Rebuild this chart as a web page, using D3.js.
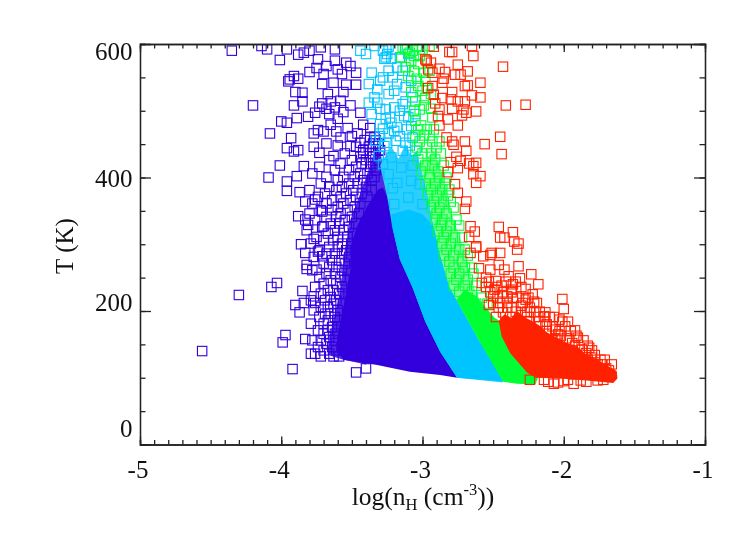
<!DOCTYPE html>
<html><head><meta charset="utf-8">
<script src="https://cdn.jsdelivr.net/npm/d3@7"></script>
<style>html,body{margin:0;background:#fff}svg{display:block;filter:blur(.35px)}text{font-family:"Liberation Serif",serif;fill:#111}</style>
</head><body><svg id="c" width="747" height="534"></svg>
<script>
// ---------- data ----------
const xMajor=[-5,-4,-3,-2,-1];
const yMajor=[0,200,400,600];
const seriesColors=["#3300dd","#00c4ff","#00ff33","#ff2200"];
const hazeColors=["#4f2be4","#2ccdff","#7dff95","#ff2200"];

// envelopes of the over-plotted masses: [log(nH), T]
const blueHaze=[[-3.67,134],[-3.655,164],[-3.58,232],[-3.55,292],[-3.51,337],[-3.43,382],[-3.37,419],[-3.33,445],[-3.30,440],[-3.20,330],[-3.20,200],[-3.40,120],[-3.56,127]];
const blueCore=[[-3.56,127],[-3.605,139],[-3.605,160],[-3.55,217],[-3.51,262],[-3.51,296],[-3.46,329],[-3.385,359],[-3.315,382],[-3.28,385],[-3.10,300],[-2.95,190],[-2.755,100],[-2.875,104],[-3.09,109],[-3.32,119]];
const cyanHaze=[[-3.30,418],[-3.25,371],[-3.21,322],[-3.16,277],[-3.07,235],[-2.98,184],[-2.875,139],[-2.755,100],[-2.43,93],[-2.59,152],[-2.76,217],[-2.81,236],[-2.88,287],[-2.93,337],[-2.96,371],[-3.02,422],[-3.04,440],[-3.08,432],[-3.12,450],[-3.17,428],[-3.22,446],[-3.27,430]];
const cyanCore=[[-3.21,322],[-3.22,345],[-3.10,352],[-3.0,345],[-2.85,310],[-2.65,221],[-2.50,152],[-2.33,93],[-2.755,100],[-2.875,139],[-2.98,184],[-3.07,235],[-3.16,277]];
const greenHaze=[[-3.02,422],[-2.96,371],[-2.93,337],[-2.88,287],[-2.81,236],[-2.76,217],[-2.59,152],[-2.47,179],[-2.56,202],[-2.63,232],[-2.68,269],[-2.73,307],[-2.79,344],[-2.83,382],[-2.88,419],[-2.92,440],[-2.97,430]];
const greenCore=[[-2.76,217],[-2.70,232],[-2.62,222],[-2.49,190],[-2.38,176],[-2.30,131],[-2.18,101],[-2.20,90],[-2.33,91],[-2.43,94],[-2.59,152]];
const redHaze=[];
const redCore=[[-2.46,185],[-2.42,195],[-2.37,190],[-2.33,200],[-2.27,190],[-2.215,184],[-2.17,178],[-2.12,168],[-2.05,160],[-1.98,152],[-1.90,146],[-1.84,135],[-1.77,128],[-1.70,119],[-1.625,110],[-1.62,99],[-1.65,92],[-1.84,96],[-2.03,99],[-2.20,100],[-2.26,108],[-2.38,137],[-2.44,162]];

// individually readable squares: [log(nH), T]
const bluePoints=[[-4.56,140],[-4.30,224],[-4.07,236],[-4.03,242],[-3.85,230],[-3.90,209],[-3.84,212],[-3.87,198],[-3.83,287],[-3.86,300],[-3.82,269],[-3.82,263],[-3.75,262],[-3.74,289],[-3.71,282],[-3.97,164],[-3.99,153],[-3.83,158],[-3.92,113],[-3.47,108],[-3.40,114],[-3.79,136],[-3.76,212],[-3.77,222],
[-4.35,590],[-4.14,597],[-4.10,592],[-4.01,576],[-3.96,592],[-3.88,584],[-3.84,587],[-3.80,558],[-3.75,564],[-3.68,567],[-3.54,572],[-3.51,567],[-3.94,547],[-3.91,552],[-3.88,548],[-3.95,544],[-3.71,540],[-3.63,542],[-3.54,539],[-3.47,539],[-3.60,562],[-3.47,557],[-3.90,528],[-3.85,527],[-4.20,508],[-3.91,508],[-3.85,514],[-3.73,506],[-3.65,514],[-3.51,508],[-3.44,497],[-4.00,484],[-3.96,482],[-3.89,489],[-3.81,491],[-3.60,488],[-3.65,479],[-4.08,466],[-3.93,459],[-3.77,466],[-3.70,469],[-3.61,469],[-3.53,474],[-3.42,479],[-3.37,474],[-3.96,444],[-3.91,439],[-3.88,441],[-3.77,446],[-3.73,437],[-3.63,432],[-3.51,447],[-3.44,452],[-3.42,437],[-4.01,418],[-4.09,400],[-3.89,402],[-3.84,417],[-3.96,394],[-3.96,380],[-3.87,378],[-3.83,364],[-3.76,367],[-3.88,342],[-3.83,337],[-3.81,329],[-3.71,349],[-3.70,327],[-3.77,308],
[-3.80,590],[-3.72,595],[-3.62,592],[-3.74,577],[-3.70,555],[-3.62,575],[-3.57,555],[-3.56,528],[-3.67,525],[-3.58,515],[-3.76,497],[-3.71,511],[-3.68,503],[-3.62,505],[-3.66,495],[-3.56,498],[-3.74,471],[-3.58,460],[-3.50,462],[-3.46,466],[-3.68,451],[-3.60,448]];

// crowded zones, one row per T: [T, log(nH)...]
const blueRows=[
[461,-3.37,-3.34],[456,-3.41,-3.33],[451,-3.35,-3.31],[446,-3.47,-3.38],[441,-3.42,-3.33,-3.30],[436,-3.55,-3.37],[431,-3.44,-3.35],[426,-3.66,-3.50,-3.40,-3.31],[421,-3.58,-3.43,-3.35],[416,-3.73,-3.47,-3.37],[411,-3.62,-3.52,-3.33],[406,-3.78,-3.44,-3.39],[401,-3.68,-3.56,-3.48,-3.34],[396,-3.60,-3.42,-3.36],[391,-3.72,-3.52,-3.46],[386,-3.66,-3.57,-3.40],[381,-3.80,-3.61,-3.49,-3.36],[376,-3.69,-3.54,-3.43],[371,-3.74,-3.58,-3.47,-3.39],[366,-3.64,-3.51],[361,-3.78,-3.68,-3.56,-3.44],[356,-3.60,-3.48],[351,-3.72,-3.64,-3.53],[346,-3.80,-3.58,-3.45],[341,-3.68,-3.61,-3.50],[336,-3.76,-3.55],[331,-3.65,-3.59,-3.47],[326,-3.71,-3.52],[321,-3.82,-3.62,-3.56],[316,-3.67,-3.49],[311,-3.75,-3.60,-3.53],[306,-3.70,-3.63],[301,-3.79,-3.57,-3.50],[296,-3.66,-3.60],[291,-3.73,-3.54],[286,-3.68,-3.62,-3.57],[281,-3.77,-3.52],[276,-3.64,-3.59],[271,-3.70,-3.55],[266,-3.66,-3.61],[261,-3.78,-3.57,-3.53],[256,-3.68,-3.62],[251,-3.73,-3.58],[246,-3.65,-3.55],[241,-3.70,-3.61],[236,-3.76,-3.57],[231,-3.67,-3.63],[226,-3.72,-3.59,-3.55],[221,-3.65],[216,-3.79,-3.69,-3.61],[211,-3.63,-3.58],[206,-3.72,-3.67],[201,-3.77,-3.60],[196,-3.69,-3.65],[191,-3.73,-3.62],[186,-3.67,-3.60],[181,-3.79,-3.70],[176,-3.64,-3.60],[171,-3.74,-3.67],[166,-3.70,-3.62],[161,-3.66],[156,-3.78,-3.72,-3.63],[151,-3.68],[146,-3.74,-3.64],[141,-3.70,-3.61],[136,-3.76,-3.66],[132,-3.72,-3.63,-3.59]];

const cyanPoints=[[-3.44,590],[-3.40,585],[-3.34,597],[-3.28,590],[-3.25,585],[-3.22,578],[-3.36,557],[-3.38,540],[-3.32,532],[-3.28,550],[-3.18,565],[-3.14,560],[-3.12,535],[-3.18,540],[-3.38,512],[-3.32,512],[-3.26,502],[-3.20,505],[-3.12,514],[-3.30,480],[-3.22,482],[-3.13,492],[-3.08,477],[-3.27,578],[-3.24,560],[-3.26,580],[-3.19,592],[-3.24,596],[-3.10,585],[-3.08,545],[-3.07,520],[-3.05,495],[-3.30,503],[-3.24,525],[-3.20,530],[-3.16,500],[-3.36,495],[-3.34,520],[-3.30,545],[-3.16,580],[-3.21,550],[-3.26,488],[-3.18,475],[-3.14,510],
[-3.30,462],[-3.27,447],[-3.31,432],[-3.28,420],[-3.24,405],[-3.21,384],[-3.20,360],[-3.18,335],[-3.12,452],[-3.22,430],[-3.15,415],[-3.08,395],[-3.18,392],[-3.10,370],[-3.05,440],[-3.07,418],[-3.02,390],[-3.00,360],
[-3.28,473],[-3.24,466],[-3.20,470],[-3.16,462],[-3.11,472],[-3.07,460],[-3.25,452],[-3.19,455],[-3.14,440],[-3.09,448],[-3.33,455],[-3.23,490],[-3.10,490]];

const greenPoints=[[-3.12,592],[-3.09,587],[-3.04,597],[-3.02,582],[-3.11,592],[-3.06,559],[-2.99,557],[-3.03,537],[-2.97,534],[-3.05,514],[-2.98,519],[-3.02,502],[-3.14,595],[-3.07,590],[-3.00,592],[-2.95,597],[-3.08,575],[-3.03,570],[-2.97,575],[-2.95,560],[-3.10,552],[-3.04,548],[-2.98,545],[-3.08,528],[-3.00,530],[-2.94,525],[-3.06,500],[-2.99,508],[-2.94,503],[-3.05,485],[-3.01,478],[-2.93,490],[-3.15,580],[-3.12,565],[-3.06,582]];
const greenRows=[
[472,-3.03,-2.97,-2.92],[463,-3.05,-2.99,-2.95],[454,-3.02,-2.93,-2.88],[445,-3.04,-2.97,-2.90],[436,-3.00,-2.94,-2.87],[427,-3.03,-2.91],[418,-2.98,-2.93,-2.85],[409,-3.01,-2.89],[400,-2.95,-2.88,-2.83],[391,-2.98,-2.91,-2.84],[382,-2.94,-2.86,-2.81],[373,-2.96,-2.90,-2.82],[364,-2.92,-2.85,-2.80],[355,-2.94,-2.88,-2.78],[346,-2.90,-2.83],[337,-2.91,-2.86,-2.76],[328,-2.87,-2.80,-2.74],[319,-2.89,-2.83],[310,-2.85,-2.77,-2.72],[301,-2.86,-2.80],[292,-2.83,-2.74,-2.70],[283,-2.85,-2.78,-2.68],[274,-2.81,-2.72],[265,-2.78,-2.70,-2.65],[256,-2.80,-2.74,-2.64],[247,-2.76,-2.68],[238,-2.78,-2.70,-2.62],[229,-2.74,-2.65],[220,-2.68,-2.58],[211,-2.62,-2.54]];

const redPoints=[[-2.97,575],[-2.94,572],[-2.92,596],[-2.81,588],[-2.79,588],[-2.65,597],[-2.64,582],[-2.43,566],[-2.75,569],[-2.68,559],[-2.88,563],[-2.84,558],[-2.77,554],[-2.73,554],[-2.93,557],[-2.85,548],[-2.59,542],[-2.68,538],[-2.70,537],[-2.86,542],[-2.93,537],[-2.79,528],[-2.92,524],[-2.65,523],[-2.59,520],[-2.86,519],[-2.80,517],[-2.75,514],[-2.70,514],[-2.91,511],[-2.41,508],[-2.27,509],[-2.62,499],[-2.88,502],[-2.79,503],[-2.71,502],[-2.72,493],[-2.69,497],[-2.89,492],[-2.82,487],[-2.75,478],[-2.88,478],[-2.83,460],[-2.45,461],[-2.70,454],[-2.56,450],[-2.78,449],[-2.79,454],[-2.69,440],[-2.44,435],[-2.76,431],[-2.73,425],[-2.80,423],[-2.67,421],[-2.62,422],[-2.75,414],[-2.64,417],[-2.82,408],[-2.64,405],[-2.59,402],[-2.77,390],[-2.62,392],[-2.75,377],[-2.69,364],[-2.70,353],[-2.66,327],[-2.46,326],[-2.63,319],[-2.36,318],[-2.67,311],[-2.45,310],[-2.42,310],[-2.35,304],[-2.32,301],[-2.62,297],[-2.51,287],[-2.98,577],[-2.96,562],[-2.96,534],
[-2.33,292],[-2.45,287],[-2.66,287],[-2.62,295],[-2.57,282],[-2.52,284],[-2.60,264],[-2.52,262],[-2.46,269],[-2.32,267],[-2.23,255],[-2.18,240],[-2.39,252],[-2.31,249],[-2.37,232],[-2.27,233],[-2.49,232],[-2.58,242],[-2.36,240],[-2.50,222],[-2.40,222],[-2.27,217],[-2.01,218],[-2.00,203],[-2.53,209],[-2.45,212],[-2.21,214],[-2.17,199],[-2.10,191],[-2.26,199],[-2.34,199],[-1.97,184],[-2.03,187],[-1.92,171],[-2.14,192],[-2.06,172],[-1.98,159],[-1.94,152],[-1.87,142],[-1.84,137],[-1.74,127],[-1.78,123],[-2.06,159],[-1.70,114],[-2.07,91],[-2.04,93],[-1.93,91],[-1.84,94],[-2.14,97],[-2.11,94],[-2.55,250],[-2.48,245],[-2.42,262],[-2.44,238],[-2.33,220],[-2.22,225],[-2.12,180],[-2.04,165],[-1.90,160],[-1.82,145],[-2.40,205],[-2.30,208],[-2.24,97],[-2.00,95],[-1.97,97],[-1.88,96],[-1.76,96],[-1.72,97],[-1.80,130],[-1.76,120],[-1.68,111]];
const redRows=[
[244,-2.53,-2.41,-2.34],[236,-2.55,-2.47,-2.30],[228,-2.52,-2.43,-2.37],[220,-2.47,-2.36,-2.25],[212,-2.50,-2.40,-2.29,-2.19],[205,-2.46,-2.37,-2.24],[198,-2.43,-2.30,-2.21,-2.13],[191,-2.48,-2.38,-2.26,-2.18,-2.07],[184,-2.24,-2.13,-2.01],[177,-2.17,-2.08,-1.99],[170,-2.12,-2.03,-1.95],[163,-2.02,-1.91],[156,-2.08,-1.96,-1.86],[148,-1.92,-1.83],[141,-1.94,-1.80],[134,-1.78],[127,-1.83,-1.71],[120,-1.73,-1.66]];

const flat=r=>r.flatMap(([t,...xs])=>xs.map(v=>[v,t]));
const series=[
 {points:bluePoints.concat(flat(blueRows)),haze:blueHaze,core:blueCore},
 {points:cyanPoints,haze:cyanHaze,core:cyanCore},
 {points:greenPoints.concat(flat(greenRows)),haze:greenHaze,core:greenCore},
 {points:redPoints.concat(flat(redRows)),haze:redHaze,core:redCore}];

// ---------- layout ----------
const svg=d3.select("#c");
const L=140,R=705,T=44,B=444.5,SQ=9.4;
const x=d3.scaleLinear().domain([-5,-1]).range([L,R]);
const y=d3.scaleLinear().domain([0,600]).range([B,T]);
const xMinor=d3.range(-50,-9).map(v=>v/10);
const yMinor=d3.range(0,601,50);

svg.append("defs").append("clipPath").attr("id","plot").append("rect")
 .attr("x",L).attr("y",T).attr("width",R-L).attr("height",B-T);
const plot=svg.append("g").attr("clip-path","url(#plot)");
const line=d3.line().x(d=>x(d[0])).y(d=>y(d[1])).curve(d3.curveLinearClosed);

series.forEach((s,i)=>{
 const g=plot.append("g");
 if(s.haze.length) g.append("path").attr("d",line(s.haze)).attr("fill",hazeColors[i]);
 g.append("path").attr("d",line(s.core)).attr("fill",seriesColors[i]);
 g.selectAll("rect").data(s.points).join("rect")
  .attr("x",d=>x(d[0])-SQ/2).attr("y",d=>y(d[1])-SQ/2)
  .attr("width",SQ).attr("height",SQ)
  .attr("fill","none").attr("stroke",seriesColors[i]).attr("stroke-width",1.1);
});

// ---------- axes ----------
function ax(gen,vals,len,tx,ty){
 const g=svg.append("g").attr("transform",`translate(${tx},${ty})`)
  .call(gen.tickValues(vals).tickSize(len).tickFormat(""));
 g.selectAll("path,line").attr("stroke","#222").attr("stroke-width",1.3);
 g.selectAll("text").remove();
}
const gens=[
 [()=>d3.axisBottom(x),xMinor,xMajor.slice(1,-1),0,B],
 [()=>d3.axisTop(x),xMinor,xMajor.slice(1,-1),0,T],
 [()=>d3.axisLeft(y),yMinor,yMajor.slice(1,-1),L,0],
 [()=>d3.axisRight(y),yMinor,yMajor.slice(1,-1),R,0]];
gens.forEach(([g,mi,ma,tx,ty],k)=>{
 const vert=k>1;
 ax(g(),mi,vert?-5.5:-4.5,tx,ty);
 ax(g(),ma,vert?-11:-8,tx,ty);
});

svg.selectAll(".xl").data(xMajor).join("text").attr("class","xl")
 .attr("x",d=>x(d)-2).attr("y",478).attr("text-anchor","middle").attr("font-size",25).text(d=>d);
const yLabelNudge=[-8,0,9,16];
svg.selectAll(".yl").data(yMajor).join("text").attr("class","yl")
 .attr("x",132.5).attr("y",(d,i)=>y(d)+yLabelNudge[i]).attr("text-anchor","end").attr("font-size",25).text(d=>d);

svg.append("text").attr("transform","translate(73,246) rotate(-90)").attr("text-anchor","middle").attr("font-size",25).text("T (K)");
const t=svg.append("text").attr("x",423).attr("y",505).attr("text-anchor","middle").attr("font-size",25.5);
t.append("tspan").text("log(n");
t.append("tspan").attr("font-size",16.5).attr("dy",5).text("H");
t.append("tspan").attr("dy",-5).text(" (cm");
t.append("tspan").attr("font-size",16.5).attr("dy",-10).text("-3");
t.append("tspan").attr("dy",10).text("))");
</script></body></html>
